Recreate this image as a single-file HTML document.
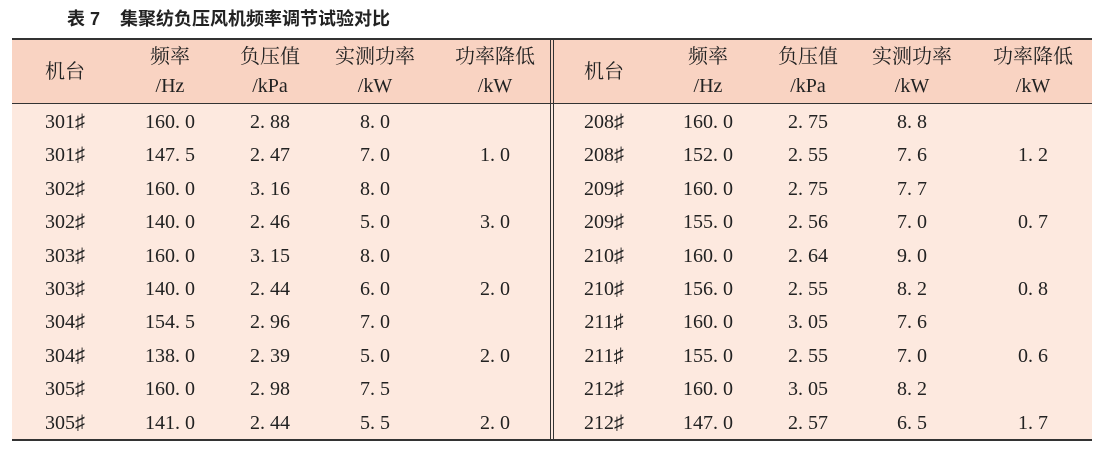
<!DOCTYPE html>
<html><head><meta charset="utf-8"><style>
body{margin:0;background:#fff;width:1104px;height:449px;position:relative;overflow:hidden;font-family:"Liberation Serif","Noto Serif CJK SC",serif;color:#222}
.t{position:absolute;left:67px;top:5px;font:bold 18px "Liberation Sans","Noto Sans CJK SC",sans-serif;color:#222;white-space:pre}
.hd{position:absolute;left:12px;top:39px;width:1080px;height:64px;background:#f9d3c2}
.bd{position:absolute;left:12px;top:104px;width:1080px;height:336px;background:#fde9df}
.l{position:absolute;background:#333}
.c{position:absolute;width:120px;margin-left:-60px;text-align:center;font-size:20px;line-height:20px;white-space:pre}
</style></head><body>
<div class="t">表 7    集聚纺负压风机频率调节试验对比</div>
<div class="hd"></div><div class="bd"></div>
<div class="l" style="left:12px;top:38px;width:1080px;height:2px"></div>
<div class="l" style="left:12px;top:103px;width:1080px;height:1px"></div>
<div class="l" style="left:12px;top:439px;width:1080px;height:2px"></div>
<div class="l" style="left:550px;top:39px;width:1px;height:401px"></div>
<div class="l" style="left:553px;top:39px;width:1px;height:401px"></div>
<div id="g"></div>
<script>
var X=[65,170,270,375,495,604,708,808,912,1033];
var H=[["机台",""],["频率","/Hz"],["负压值","/kPa"],["实测功率","/kW"],["功率降低","/kW"]];
var L=[["301♯","160.0","2.88","8.0",""],["301♯","147.5","2.47","7.0","1.0"],["302♯","160.0","3.16","8.0",""],["302♯","140.0","2.46","5.0","3.0"],["303♯","160.0","3.15","8.0",""],["303♯","140.0","2.44","6.0","2.0"],["304♯","154.5","2.96","7.0",""],["304♯","138.0","2.39","5.0","2.0"],["305♯","160.0","2.98","7.5",""],["305♯","141.0","2.44","5.5","2.0"]];
var R=[["208♯","160.0","2.75","8.8",""],["208♯","152.0","2.55","7.6","1.2"],["209♯","160.0","2.75","7.7",""],["209♯","155.0","2.56","7.0","0.7"],["210♯","160.0","2.64","9.0",""],["210♯","156.0","2.55","8.2","0.8"],["211♯","160.0","3.05","7.6",""],["211♯","155.0","2.55","7.0","0.6"],["212♯","160.0","3.05","8.2",""],["212♯","147.0","2.57","6.5","1.7"]];
var s="";
function c(x,y,t){s+='<div class="c" style="left:'+x+'px;top:'+(y-10)+'px">'+t.replace(/\./,'. ')+'</div>';}
for(var k=0;k<2;k++)for(var i=0;i<5;i++){var x=X[k*5+i];if(i==0)c(x,72,H[0][0]);else{c(x,57,H[i][0]);c(x,86,H[i][1]);}}
for(var r=0;r<10;r++){var y=122+r*33.4;for(var i=0;i<5;i++){c(X[i],y,L[r][i]);c(X[5+i],y,R[r][i]);}}
document.getElementById('g').innerHTML=s;
</script>
</body></html>
